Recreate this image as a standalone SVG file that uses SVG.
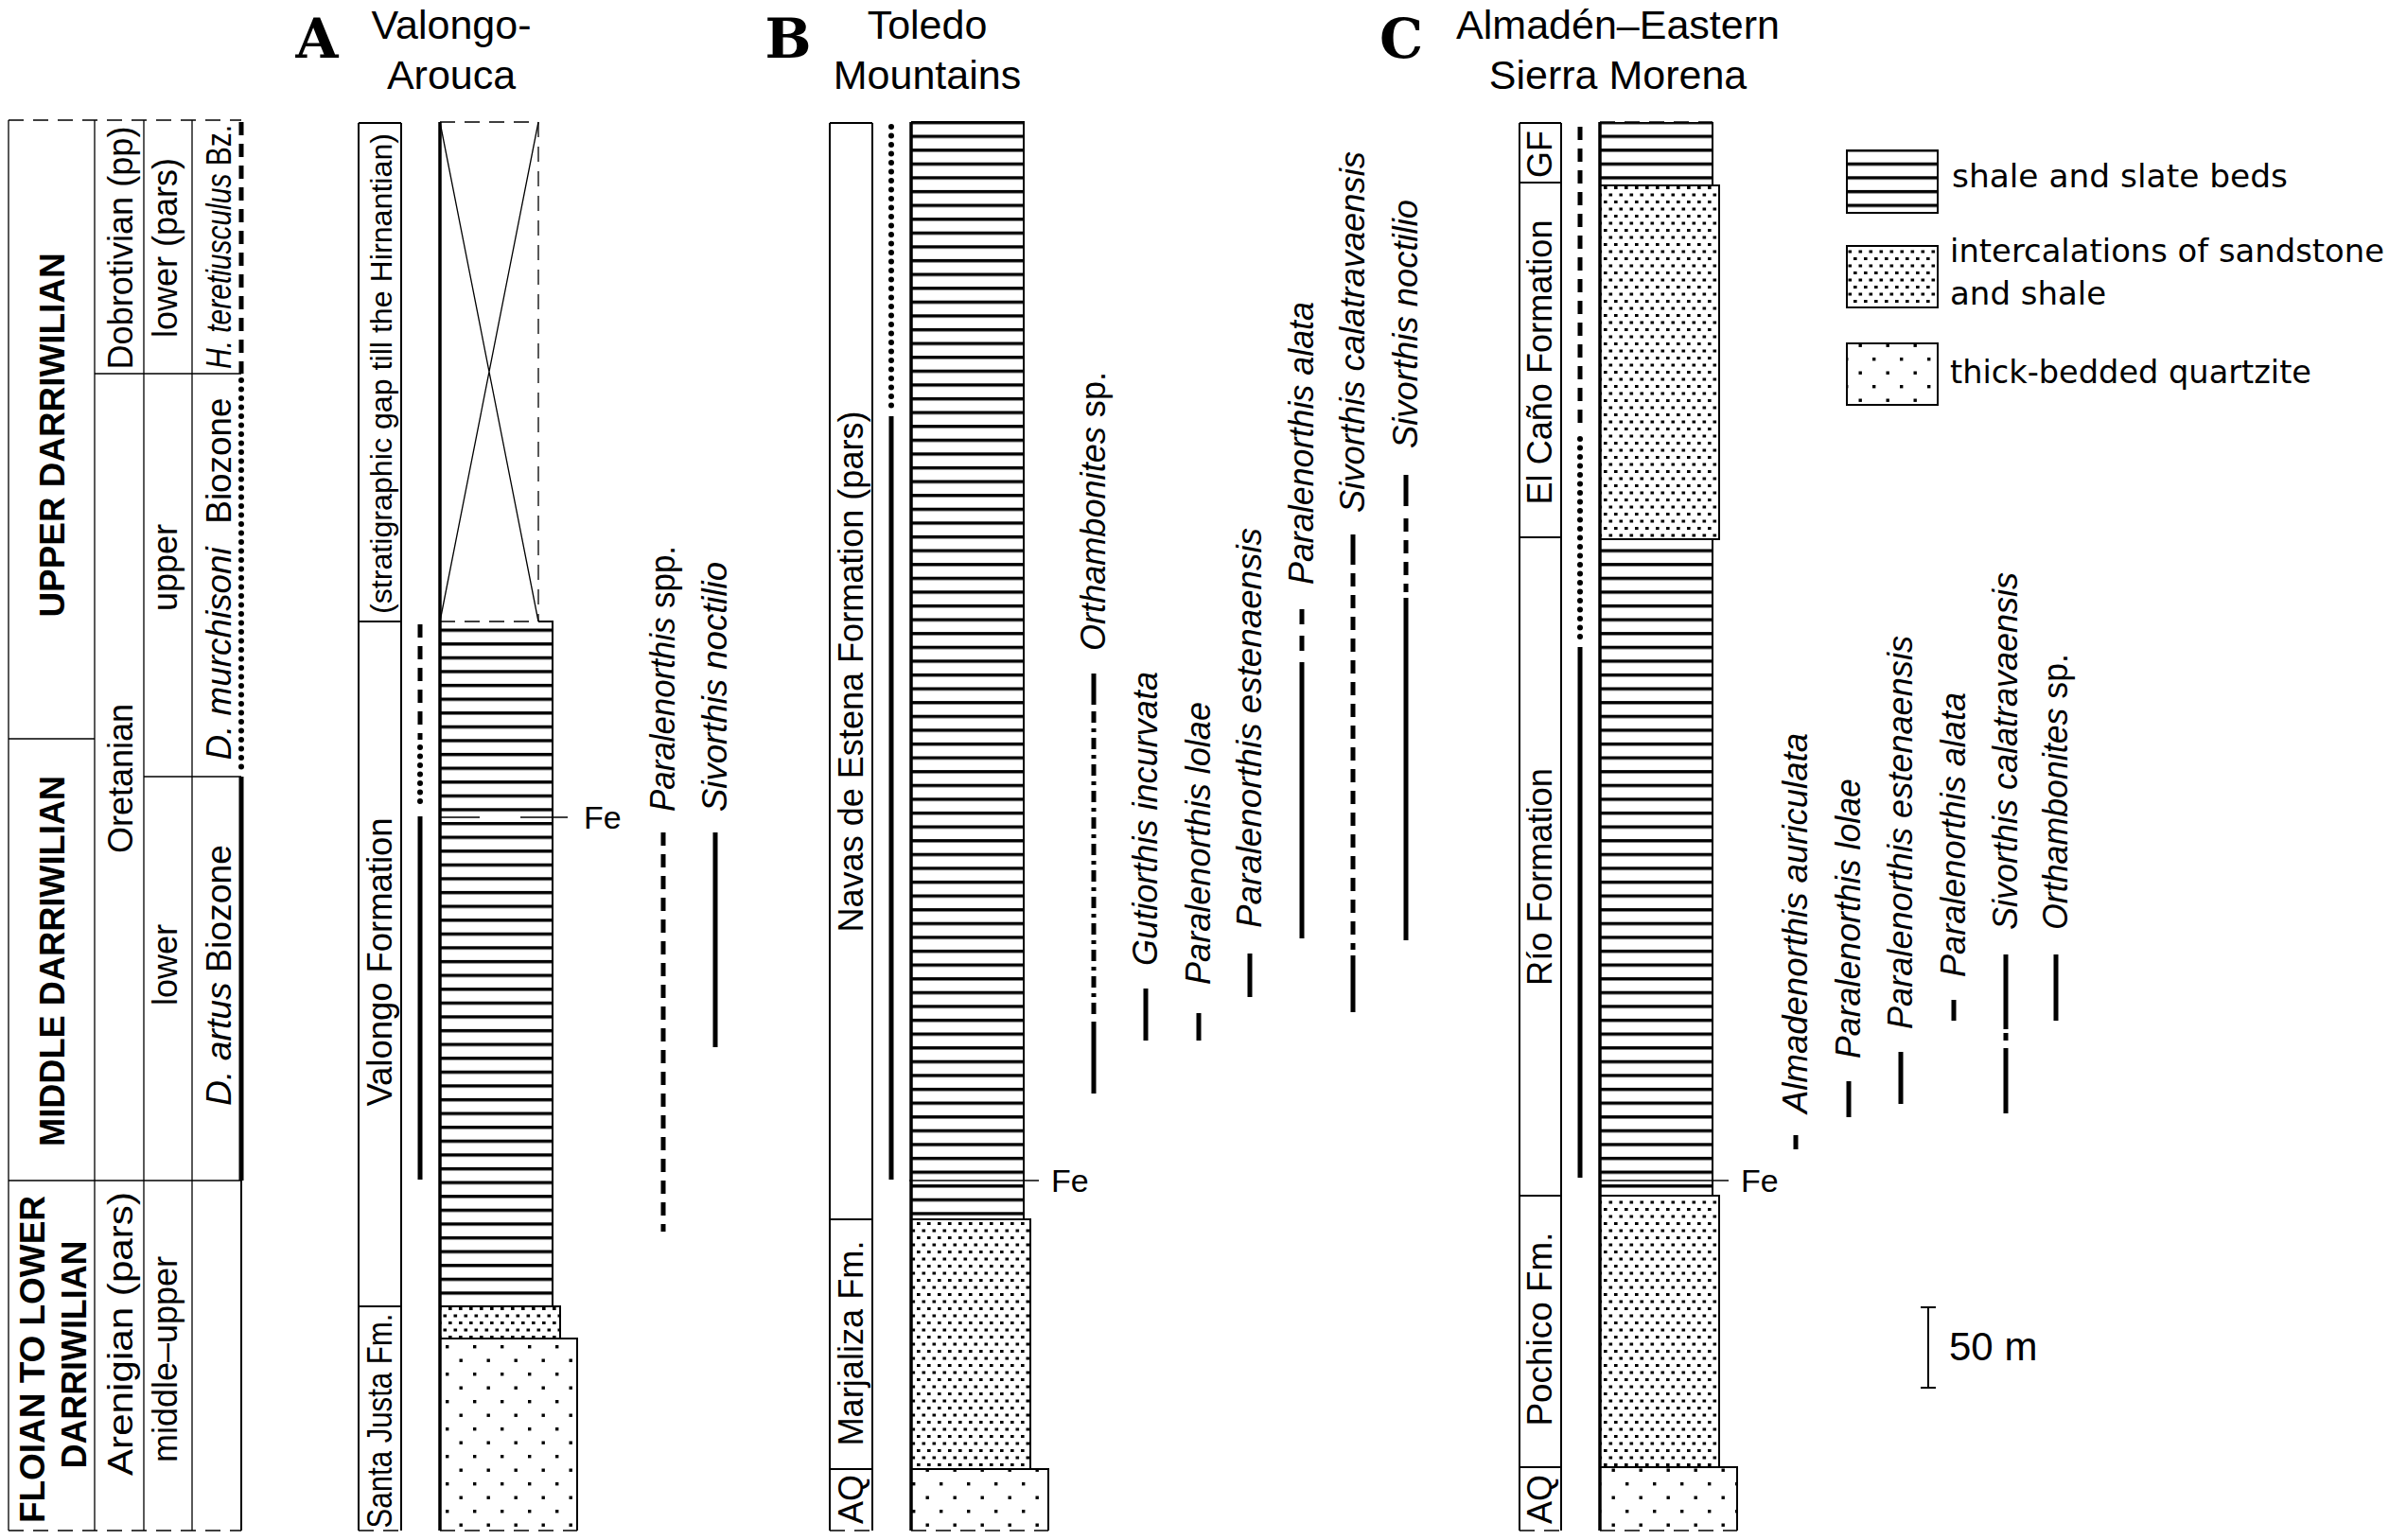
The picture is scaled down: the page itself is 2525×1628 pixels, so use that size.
<svg xmlns="http://www.w3.org/2000/svg" width="2525" height="1628" viewBox="0 0 2525 1628">
<style>
text{font-family:"Liberation Sans",Arial,sans-serif;fill:#000}
.r{font-size:36px}
.s{font-size:31px}
.bd{font-size:36px;font-weight:bold}
.it{font-size:36px;font-style:italic}
.up{font-style:normal}
.hd{font-size:43px}
.lt{font-family:"DejaVu Serif","Liberation Serif",serif;font-weight:bold;font-size:58px}
.lg{font-family:"DejaVu Sans",sans-serif;font-size:34px}
.fe{font-size:34px}
.ln{stroke:#000;stroke-width:2;fill:none}
.bx{stroke:#000;stroke-width:2}
.th{stroke:#000;stroke-width:1.3;fill:none}
.dsh{stroke-dasharray:16 10}
.lft{stroke:#000;stroke-width:3.5;fill:none}
.rg{stroke:#000;stroke-width:5;fill:none}
.rd{stroke-dasharray:14 9}
.rt{stroke-dasharray:0 9.5;stroke-linecap:round;stroke-width:6}
.rdd{stroke-dasharray:12 6 4 6}
</style>
<defs>
<pattern id="shA" patternUnits="userSpaceOnUse" x="0" y="664.5" width="20" height="14.6"><rect width="20" height="14.6" fill="#fff"/><rect width="20" height="3.4" fill="#000"/></pattern>
<pattern id="shB" patternUnits="userSpaceOnUse" x="0" y="142.5" width="20" height="14.6"><rect width="20" height="14.6" fill="#fff"/><rect width="20" height="3.4" fill="#000"/></pattern>
<pattern id="ic" patternUnits="userSpaceOnUse" x="0" y="0" width="11" height="15"><rect width="11" height="15" fill="#fff"/><rect x="1" y="2" width="3.6" height="3" fill="#000"/><rect x="6.5" y="9.5" width="3.6" height="3" fill="#000"/></pattern>
<pattern id="qz" patternUnits="userSpaceOnUse" x="470" y="1421" width="29" height="29"><rect width="29" height="29" fill="#fff"/><rect x="1" y="1" width="3.4" height="3.4" fill="#000"/><rect x="15.5" y="15.5" width="3.4" height="3.4" fill="#000"/></pattern>
</defs>
<rect width="2525" height="1628" fill="#fff"/>

<g id="timescale">
<path class="th" d="M9,127V1618M100,127V1618M152,127V1618M203,127V1618"/>
<path class="th dsh" d="M9,127H255M9,1618H255"/>
<path class="th" d="M100,395H255M9,781H100M152,821H255M9,1248H255"/>
<path class="rg" d="M255,821V1248" stroke-width="4.5"/>
<path class="rg rd" d="M255,129V395" stroke-width="4.5"/>
<path class="rg rt" d="M255,402V818"/>
<path class="ln" d="M255,1248V1618"/>
<text class="bd" text-anchor="middle" transform="translate(68,460) rotate(-90)" textLength="385" lengthAdjust="spacingAndGlyphs">UPPER DARRIWILIAN</text>
<text class="bd" text-anchor="middle" transform="translate(68,1016) rotate(-90)" textLength="392" lengthAdjust="spacingAndGlyphs">MIDDLE DARRIWILIAN</text>
<text class="bd" text-anchor="middle" transform="translate(47,1437) rotate(-90)" textLength="346" lengthAdjust="spacingAndGlyphs">FLOIAN TO LOWER</text>
<text class="bd" text-anchor="middle" transform="translate(91,1432) rotate(-90)" textLength="241" lengthAdjust="spacingAndGlyphs">DARRIWILIAN</text>
<text class="r" text-anchor="middle" transform="translate(140,262) rotate(-90)" textLength="257" lengthAdjust="spacingAndGlyphs">Dobrotivian (pp)</text>
<text class="r" text-anchor="middle" transform="translate(140,823) rotate(-90)">Oretanian</text>
<text class="r" text-anchor="middle" transform="translate(140,1410) rotate(-90)" textLength="300" lengthAdjust="spacingAndGlyphs">Arenigian (pars)</text>
<text class="r" text-anchor="middle" transform="translate(187,262) rotate(-90)">lower (pars)</text>
<text class="r" text-anchor="middle" transform="translate(187,600) rotate(-90)">upper</text>
<text class="r" text-anchor="middle" transform="translate(187,1020) rotate(-90)">lower</text>
<text class="r" text-anchor="middle" transform="translate(187,1437) rotate(-90)">middle–upper</text>
<text class="it" text-anchor="middle" transform="translate(244,261) rotate(-90)" textLength="258" lengthAdjust="spacingAndGlyphs">H. teretiusculus <tspan class="up">Bz.</tspan></text>
<text class="it" text-anchor="middle" transform="translate(244,612) rotate(-90)" textLength="383" lengthAdjust="spacingAndGlyphs">D. murchisoni <tspan class="up" dx="14">Biozone</tspan></text>
<text class="it" text-anchor="middle" transform="translate(244,1031) rotate(-90)" textLength="276" lengthAdjust="spacingAndGlyphs">D. artus <tspan class="up">Biozone</tspan></text>
</g>

<g id="sectionA">
<text class="lt" x="335" y="61" text-anchor="middle">A</text>
<text class="hd" x="477" y="41" text-anchor="middle">Valongo-</text>
<text class="hd" x="477" y="94" text-anchor="middle">Arouca</text>
<path class="ln" d="M379,130H424M379,657H424M379,1381H424M379,130V1618M424,130V1618"/>
<path class="th dsh" d="M379,1618H424"/>
<text class="s" text-anchor="middle" transform="translate(414,395) rotate(-90)" textLength="508" lengthAdjust="spacingAndGlyphs">(stratigraphic gap till the Hirnantian)</text>
<text class="r" text-anchor="middle" transform="translate(414,1017) rotate(-90)" textLength="305" lengthAdjust="spacingAndGlyphs">Valongo Formation</text>
<text class="r" text-anchor="middle" transform="translate(414,1502) rotate(-90)" textLength="227" lengthAdjust="spacingAndGlyphs">Santa Justa Fm.</text>
<path class="rg rd" d="M444,660V782"/>
<path class="rg rt" d="M444,790V856"/>
<path class="rg" d="M444,863V1247"/>
<rect x="465" y="657" width="119" height="724" fill="url(#shA)"/>
<rect x="465" y="1381" width="127" height="34" fill="url(#ic)"/>
<rect x="465" y="1415" width="145" height="203" fill="url(#qz)"/>
<path class="th dsh" d="M465,129H569V657M465,657H569"/>
<path class="th" d="M465,129L569,657M569,129L465,657"/>
<path class="ln" d="M569,657H584V1381H592V1415H610V1618M465,1381H592M465,1415H610"/>
<path class="th dsh" d="M465,1618H610"/>
<path class="lft" d="M465,129V1618"/>
<rect x="467" y="860" width="116" height="9" fill="#fff"/>
<path class="th" d="M465,864H507M550,864H600"/>
<text class="fe" x="617" y="876">Fe</text>
</g>

<g id="rangesA">
<path class="rg rd" d="M701,880V1302"/>
<path class="rg" d="M756,880V1107"/>
<text class="it" transform="translate(713,858) rotate(-90)" textLength="281" lengthAdjust="spacingAndGlyphs">Paralenorthis <tspan class="up">spp.</tspan></text>
<text class="it" transform="translate(768,858) rotate(-90)" textLength="264" lengthAdjust="spacingAndGlyphs">Sivorthis noctilio</text>
</g>

<g id="sectionB">
<text class="lt" x="833" y="61" text-anchor="middle">B</text>
<text class="hd" x="980" y="41" text-anchor="middle">Toledo</text>
<text class="hd" x="980" y="94" text-anchor="middle">Mountains</text>
<path class="ln" d="M877,130H922M877,1289H922M877,1553H922M877,130V1618M922,130V1618"/>
<path class="th dsh" d="M877,1618H922"/>
<text class="r" text-anchor="middle" transform="translate(912,710) rotate(-90)" textLength="551" lengthAdjust="spacingAndGlyphs">Navas de Estena Formation (pars)</text>
<text class="r" text-anchor="middle" transform="translate(912,1420) rotate(-90)" textLength="217" lengthAdjust="spacingAndGlyphs">Marjaliza Fm.</text>
<text class="r" text-anchor="middle" transform="translate(912,1585) rotate(-90)">AQ</text>
<path class="rg rt" d="M942,134V432"/>
<path class="rg" d="M942,440V1247"/>
<rect x="963" y="129" width="119" height="1160" fill="url(#shB)"/>
<rect x="963" y="1289" width="126" height="264" fill="url(#ic)"/>
<rect x="963" y="1553" width="145" height="65" fill="url(#qz)"/>
<path class="ln" d="M963,129H1082V1289H1089V1553H1108V1618M963,1289H1089M963,1553H1108"/>
<path class="th dsh" d="M963,1618H1108"/>
<path class="lft" d="M963,129V1618"/>
<path class="th" d="M961,1248H1098"/>
<text class="fe" x="1111" y="1260">Fe</text>
</g>

<g id="rangesB">
<path class="rg" d="M1156,712V745M1156,1080V1156"/>
<path class="rg rdd" d="M1156,752V1075"/>
<path class="rg" d="M1211,1045V1100"/>
<path class="rg" d="M1267,1071V1100"/>
<path class="rg" d="M1321,1008V1054"/>
<path class="rg" d="M1376,644V660M1376,672V688M1376,700V992"/>
<path class="rg" d="M1430,565V597M1430,1010V1070"/>
<path class="rg rd" d="M1430,606V1004"/>
<path class="rg" d="M1486,502V535M1486,632V994"/>
<path class="rg rd" d="M1486,548V626"/>
<text class="it" transform="translate(1168,688) rotate(-90)" textLength="295" lengthAdjust="spacingAndGlyphs">Orthambonites <tspan class="up">sp.</tspan></text>
<text class="it" transform="translate(1223,1021) rotate(-90)" textLength="311" lengthAdjust="spacingAndGlyphs">Gutiorthis incurvata</text>
<text class="it" transform="translate(1279,1041) rotate(-90)" textLength="299" lengthAdjust="spacingAndGlyphs">Paralenorthis lolae</text>
<text class="it" transform="translate(1333,981) rotate(-90)" textLength="423" lengthAdjust="spacingAndGlyphs">Paralenorthis estenaensis</text>
<text class="it" transform="translate(1388,618) rotate(-90)" textLength="299" lengthAdjust="spacingAndGlyphs">Paralenorthis alata</text>
<text class="it" transform="translate(1442,542) rotate(-90)" textLength="382" lengthAdjust="spacingAndGlyphs">Sivorthis calatravaensis</text>
<text class="it" transform="translate(1498,474) rotate(-90)" textLength="263" lengthAdjust="spacingAndGlyphs">Sivorthis noctilio</text>
</g>

<g id="sectionC">
<text class="lt" x="1481" y="61" text-anchor="middle">C</text>
<text class="hd" x="1710" y="41" text-anchor="middle">Almadén–Eastern</text>
<text class="hd" x="1710" y="94" text-anchor="middle">Sierra Morena</text>
<path class="ln" d="M1606,130H1650M1606,193H1650M1606,568H1650M1606,1264H1650M1606,1551H1650M1606,130V1618M1650,130V1618"/>
<path class="th dsh" d="M1606,1618H1650"/>
<text class="r" text-anchor="middle" transform="translate(1640,163) rotate(-90)">GF</text>
<text class="r" text-anchor="middle" transform="translate(1640,383) rotate(-90)" textLength="301" lengthAdjust="spacingAndGlyphs">El Caño Formation</text>
<text class="r" text-anchor="middle" transform="translate(1640,927) rotate(-90)" textLength="230" lengthAdjust="spacingAndGlyphs">Río Formation</text>
<text class="r" text-anchor="middle" transform="translate(1640,1405) rotate(-90)" textLength="205" lengthAdjust="spacingAndGlyphs">Pochico Fm.</text>
<text class="r" text-anchor="middle" transform="translate(1640,1585) rotate(-90)">AQ</text>
<path class="rg rd" d="M1670,134V454"/>
<path class="rg rt" d="M1670,464V679"/>
<path class="rg" d="M1670,684V1245"/>
<rect x="1691" y="129" width="119" height="67" fill="url(#shB)"/>
<rect x="1691" y="196" width="126" height="374" fill="url(#ic)"/>
<rect x="1691" y="570" width="119" height="694" fill="url(#shB)"/>
<rect x="1691" y="1264" width="126" height="287" fill="url(#ic)"/>
<rect x="1691" y="1551" width="145" height="67" fill="url(#qz)"/>
<path class="ln" d="M1810,129V196H1817V570H1810V1264H1817V1551H1836V1618M1691,196H1817M1691,570H1817M1691,1264H1817M1691,1551H1836"/>
<path class="th dsh" d="M1691,129H1810M1691,1618H1836"/>
<path class="lft" d="M1691,129V1618"/>
<path class="th" d="M1692,1248H1827"/>
<text class="fe" x="1840" y="1260">Fe</text>
</g>

<g id="rangesC">
<path class="rg" d="M1898,1200V1215"/>
<path class="rg" d="M1954,1143V1181"/>
<path class="rg" d="M2009,1112V1167"/>
<path class="rg" d="M2065,1057V1079"/>
<path class="rg" d="M2120,1009V1088M2120,1092V1100M2120,1108V1177"/>
<path class="rg" d="M2173,1009V1079"/>
<text class="it" transform="translate(1910,1177) rotate(-90)" textLength="402" lengthAdjust="spacingAndGlyphs">Almadenorthis auriculata</text>
<text class="it" transform="translate(1966,1119) rotate(-90)" textLength="296" lengthAdjust="spacingAndGlyphs">Paralenorthis lolae</text>
<text class="it" transform="translate(2021,1088) rotate(-90)" textLength="416" lengthAdjust="spacingAndGlyphs">Paralenorthis estenaensis</text>
<text class="it" transform="translate(2077,1033) rotate(-90)" textLength="301" lengthAdjust="spacingAndGlyphs">Paralenorthis alata</text>
<text class="it" transform="translate(2132,983) rotate(-90)" textLength="378" lengthAdjust="spacingAndGlyphs">Sivorthis calatravaensis</text>
<text class="it" transform="translate(2185,983) rotate(-90)" textLength="292" lengthAdjust="spacingAndGlyphs">Orthambonites <tspan class="up">sp.</tspan></text>
</g>

<g id="legend">
<rect x="1952" y="159" width="96" height="66" fill="url(#shB)" class="bx"/>
<rect x="1952" y="260" width="96" height="65" fill="url(#ic)" class="bx"/>
<rect x="1952" y="363" width="96" height="65" fill="url(#qz)" class="bx"/>
<text class="lg" x="2063" y="198" textLength="355" lengthAdjust="spacingAndGlyphs">shale and slate beds</text>
<text class="lg" x="2061" y="277" textLength="459" lengthAdjust="spacingAndGlyphs">intercalations of sandstone</text>
<text class="lg" x="2061" y="322">and shale</text>
<text class="lg" x="2061" y="405" textLength="382" lengthAdjust="spacingAndGlyphs">thick-bedded quartzite</text>
</g>

<g id="scalebar">
<path class="ln" d="M2038,1382V1467M2030,1382H2046M2030,1467H2046" stroke-width="2.5"/>
<text x="2060" y="1438" font-size="42">50 m</text>
</g>
</svg>
